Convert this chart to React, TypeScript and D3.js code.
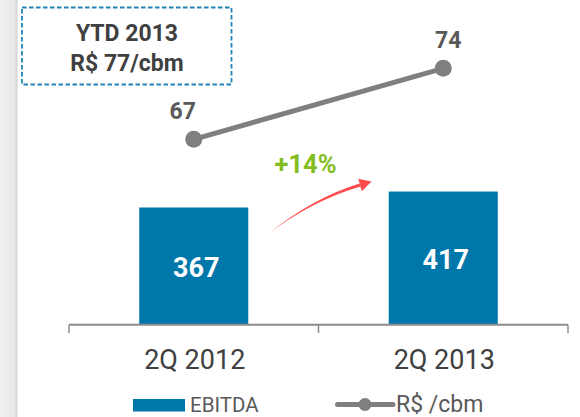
import * as d3 from 'd3'

const categories = ['2Q 2012', '2Q 2013']
const ebitda = [367, 417]
const perCbm = [67, 74]
const ytdLines = ['YTD 2013', 'R$ 77/cbm']
const growthLabel = '+14%'
const legendLabels = ['EBITDA', 'R$ /cbm']

const W = 580
const H = 417
const FONT = 'Roboto, "Open Sans", sans-serif'
const BLUE = '#0077aa'
const GRAY_LINE = '#7f7f7f'
const TEXT = '#595959'

export default function App() {
  const axisY = 324.7
  const x = d3.scaleBand<string>().domain(categories).range([69, 568]).padding(0)
  const barW = x.bandwidth() * 0.437
  const yBar = d3.scaleLinear().domain([0, 450]).range([axisY, 181])
  const yLine = d3.scaleLinear().domain([50, 80]).range([311.7, 7.5])
  const cx = (c: string) => (x(c) ?? 0) + x.bandwidth() / 2

  const linePath = d3.line<number>()
    .x((_, i) => cx(categories[i]))
    .y(d => yLine(d))(perCbm)

  // curved growth arrow between the bars, tapered toward the head
  const s: [number, number] = [267, 235]
  const c: [number, number] = [310, 200]
  const e: [number, number] = [360, 185]
  const arrowBody = `M${s[0]},${s[1]} Q${c[0]},${c[1] - 1} ${e[0] - 0.5},${e[1] - 1.6} L${e[0] + 0.5},${e[1] + 1.6} Q${c[0]},${c[1] + 1.5} ${s[0]},${s[1]} Z`
  const arrowHead = `M371.5,181.4 L358.2,178.8 L361.8,191.2 Z`

  const ticks = [x.range()[0], ...categories.slice(1).map(k => x(k) ?? 0), x.range()[1]]

  return (
    <svg width={W} height={H} style={{ position: 'fixed', left: 0, top: 0, background: '#fff' }} fontFamily={FONT}>
      <defs>
        <linearGradient id="edge" x1="0" x2="1" y1="0" y2="0">
          <stop offset="0" stopColor="#f0f0f0" />
          <stop offset="0.8" stopColor="#e8e8e8" />
          <stop offset="1" stopColor="#d2d2d2" />
        </linearGradient>
      </defs>
      <rect x={0} y={0} width={17.5} height={H} fill="url(#edge)" />

      {/* YTD box */}
      <rect x={22} y={7.5} width={209.5} height={77} fill="none" stroke="#1f84b6" strokeWidth={1.8} strokeDasharray="4.5 2.5" />
      {ytdLines.map((t, i) => (
        <text key={t} x={127} y={41 + i * 30} textAnchor="middle" fontWeight={700} fontSize={23} fill="#404040">{t}</text>
      ))}

      {/* bars */}
      {categories.map((k, i) => (
        <g key={k}>
          <rect x={cx(k) - barW / 2} y={yBar(ebitda[i])} width={barW} height={axisY - yBar(ebitda[i])} fill={BLUE} />
          <text x={cx(k) + 2.5} y={(yBar(ebitda[i]) + axisY) / 2 + 1} dy="0.36em" textAnchor="middle" fontWeight={700} fontSize={27} fill="#fff">{ebitda[i]}</text>
        </g>
      ))}

      {/* axis */}
      <line x1={x.range()[0]} x2={x.range()[1]} y1={axisY} y2={axisY} stroke="#8c8c8c" strokeWidth={2} />
      {ticks.map((t, i) => (
        <line key={i} x1={t} x2={t} y1={axisY} y2={333} stroke="#8c8c8c" strokeWidth={1.5} />
      ))}
      {categories.map(k => (
        <text key={k} x={cx(k) + 1} y={369} textAnchor="middle" fontSize={27} fill="#404040">{k}</text>
      ))}

      {/* line series */}
      <path d={linePath ?? ''} fill="none" stroke={GRAY_LINE} strokeWidth={5} />
      {perCbm.map((v, i) => (
        <g key={i}>
          <circle cx={cx(categories[i])} cy={yLine(v)} r={8.5} fill={GRAY_LINE} />
          <text x={cx(categories[i]) + (i === 0 ? -11 : 5)} y={yLine(v) - 20.5} textAnchor="middle" fontWeight={700} fontSize={23} fill={TEXT}>{v}</text>
        </g>
      ))}

      {/* growth */}
      <text x={305.5} y={172.5} textAnchor="middle" fontWeight={700} fontSize={25.5} fill="#84bd1f">{growthLabel}</text>
      <path d={arrowBody} fill="#ff4b4b" />
      <path d={arrowHead} fill="#ff4b4b" />

      {/* legend */}
      <rect x={133} y={399} width={52} height={12.5} fill={BLUE} />
      <text x={190} y={411.5} fontSize={20.5} fill={TEXT}>{legendLabels[0]}</text>
      <line x1={337.5} x2={393} y1={404.5} y2={404.5} stroke={GRAY_LINE} strokeWidth={5} strokeLinecap="round" />
      <circle cx={365} cy={404.5} r={6.5} fill={GRAY_LINE} />
      <text x={396} y={411.5} fontSize={23} fill={TEXT}>{legendLabels[1]}</text>
    </svg>
  )
}
